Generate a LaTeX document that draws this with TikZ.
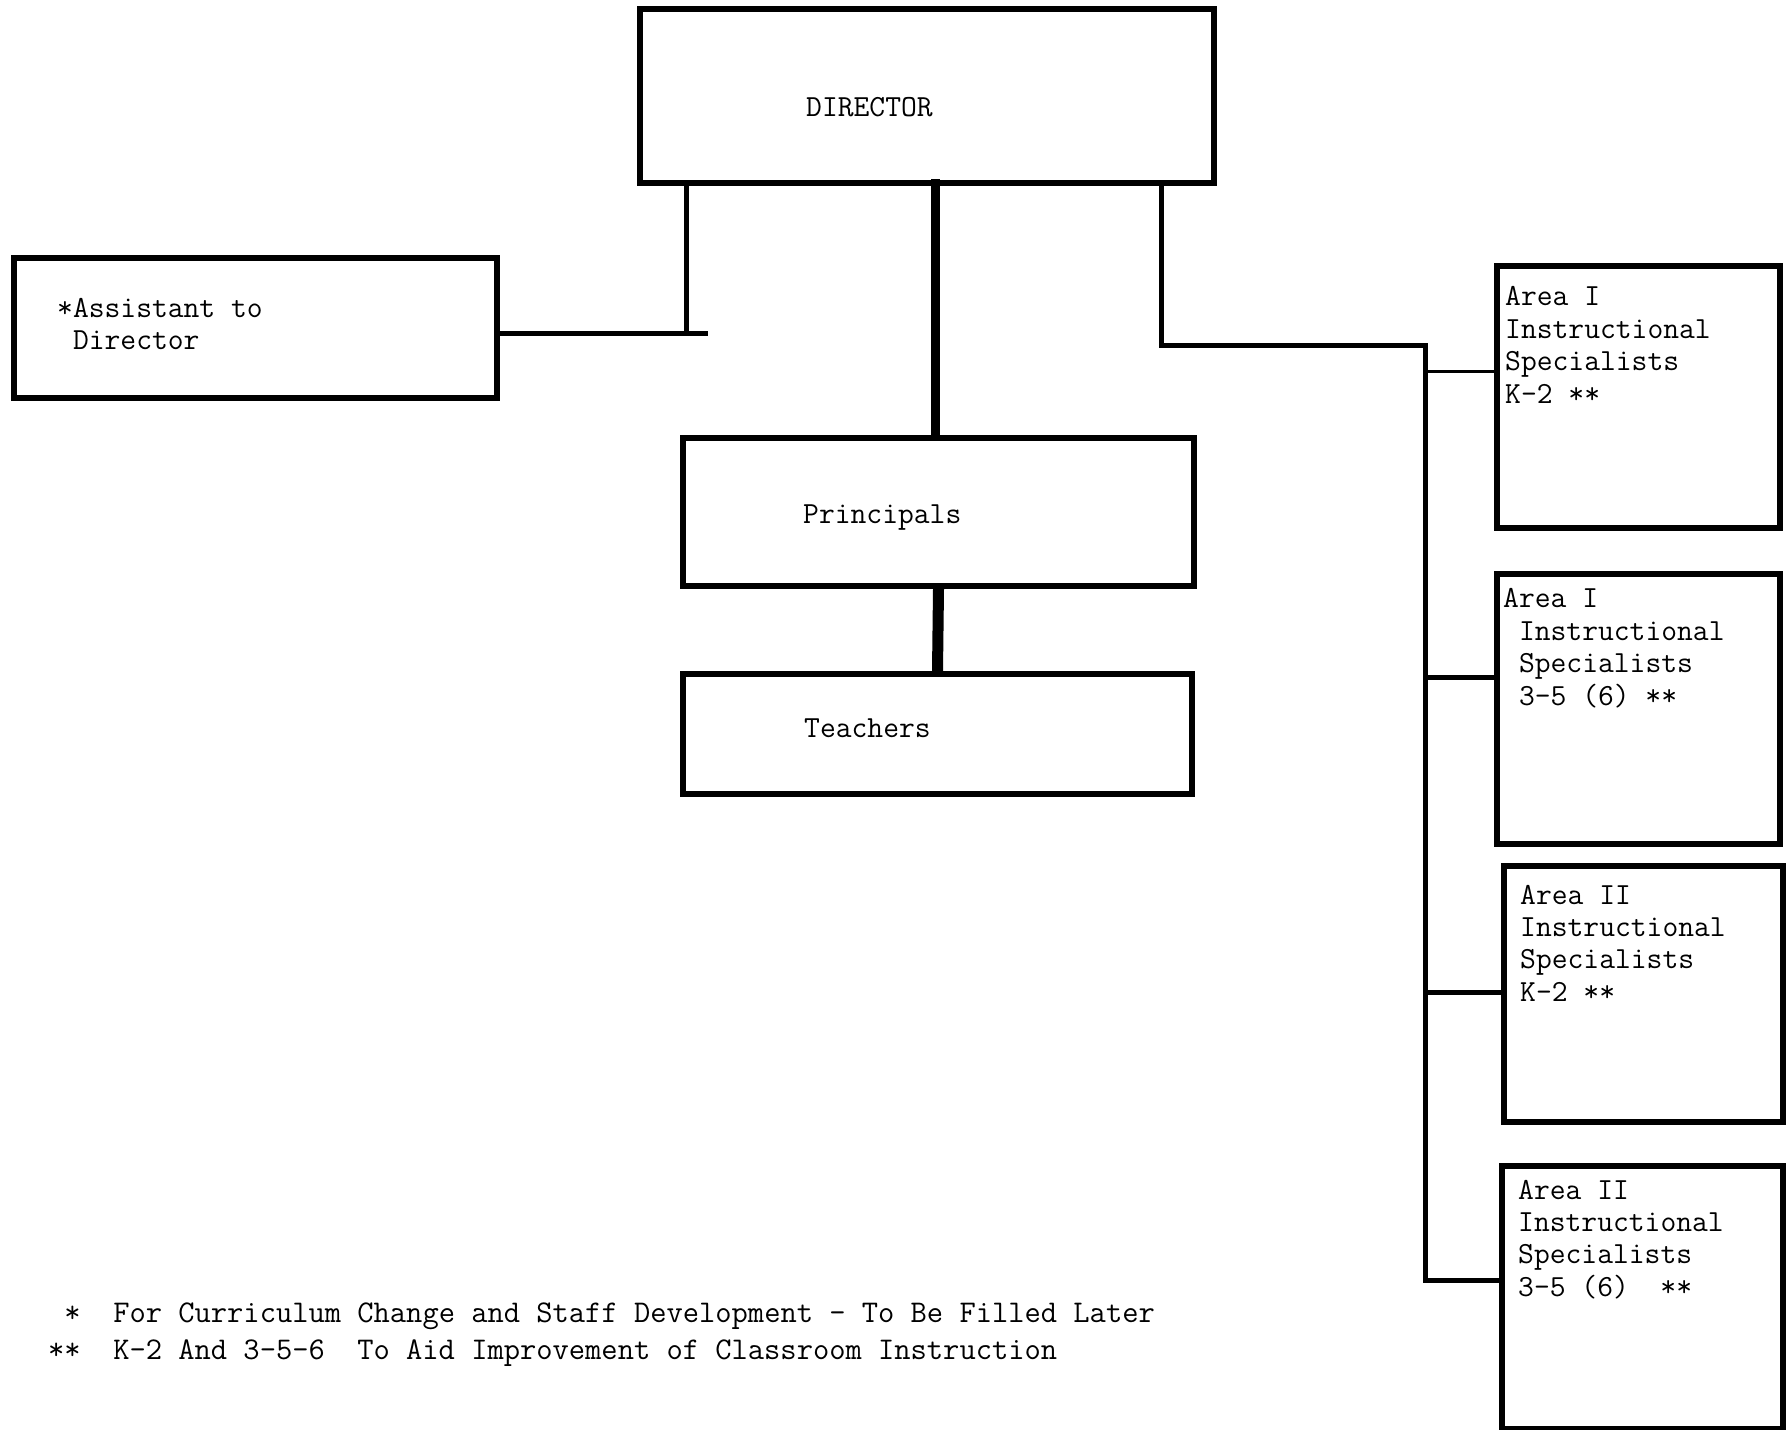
\documentclass[tikz,border=0pt]{standalone}
\begin{document}
\begin{tikzpicture}[x = 1pt, y = -1pt,
		box/.style = {draw, line width = 6pt, inner sep = 0pt},
		lbl/.style = {inner sep = 0pt, font = \fontsize{30.7}{32.4}\selectfont\ttfamily, align = left},
		note/.style = {inner sep = 0pt, font = \fontsize{31.6}{33}\selectfont\ttfamily, anchor = base west},
		link/.style = {line width = 5pt, line cap = rect}]
		\useasboundingbox [fill = white] (0,0) rectangle (1789,1430);
		
		\node (Dir) at (927,96) [box, minimum width = 574pt, minimum height = 174pt] {};
		\node (Dirtext) at (806,116) [lbl, anchor = base west] {DIRECTOR};
		
		\node (Asst) at (255.5,328) [box, minimum width = 483pt, minimum height = 140pt] {};
		\node (Assttext) at (57,298) [lbl, anchor = north west] {*Assistant to\\\hphantom{*}Director};
		
		\node (Prin) at (938.5,512) [box, minimum width = 511pt, minimum height = 148pt] {};
		\node (Printext) at (803,523) [lbl, anchor = base west] {Principals};
		
		\node (Teach) at (937.5,734) [box, minimum width = 509pt, minimum height = 120pt] {};
		\node (Teachtext) at (804,737) [lbl, anchor = base west] {Teachers};
		
		\node (Spec1) at (1638.5,397) [box, minimum width = 283pt, minimum height = 262pt] {};
		\node (Spec1text) at (1505,286.6) [lbl, anchor = north west] {Area I\\Instructional\\Specialists\\K-2 **};
		\node (Spec2) at (1638.5,709) [box, minimum width = 283pt, minimum height = 270pt] {};
		\node (Spec2text) at (1503,588.6) [lbl, anchor = north west] {Area I\\\hphantom{0}Instructional\\\hphantom{0}Specialists\\\hphantom{0}3-5 (6) **};
		\node (Spec3) at (1643.5,994) [box, minimum width = 279pt, minimum height = 256pt] {};
		\node (Spec3text) at (1520,884.6) [lbl, anchor = north west] {Area II\\Instructional\\Specialists\\K-2 **};
		\node (Spec4) at (1642.5,1297.5) [box, minimum width = 281pt, minimum height = 263pt] {};
		\node (Spec4text) at (1518,1179.6) [lbl, anchor = north west] {Area II\\Instructional\\Specialists\\3-5 (6)\hphantom{00}**};
		
		\coordinate (Aj) at (686,333);
		\coordinate (Aend) at (705,333);
		\draw [link] (Aj |- Dir.south) -- (Aj);
		\draw [link] (Asst.east |- Aend) -- (Aend);
		
		\coordinate (Pj) at (935,183);
		\draw [link, line width = 9pt] (Pj) -- (Pj |- Prin.north);
		\draw [link, line width = 11pt] (Prin.south) -- (Teach.north);
		
		\coordinate (Rj) at (1161,345);
		\coordinate (Bus) at (1425,345);
		\coordinate (Busend) at (1425,1280);
		\draw [link, line join = miter] (Rj |- Dir.south) -- (Rj) -- (Bus) -- (Busend);
		\foreach \s/\y/\w in {Spec1/371/3, Spec2/677/5, Spec3/992/5, Spec4/1280/5}
			\draw [link, line width = \w pt] (Bus |- 0,\y) -- (\s.west |- 0,\y);
		
		\node (Note1) at (48,1322) [note] {\hphantom{0}*\hphantom{00}For Curriculum Change and Staff Development - To Be Filled Later};
		\node (Note2) at (48,1359) [note] {**\hphantom{00}K-2 And 3-5-6\hphantom{0} To Aid Improvement of Classroom Instruction};
\end{tikzpicture}
\end{document}
